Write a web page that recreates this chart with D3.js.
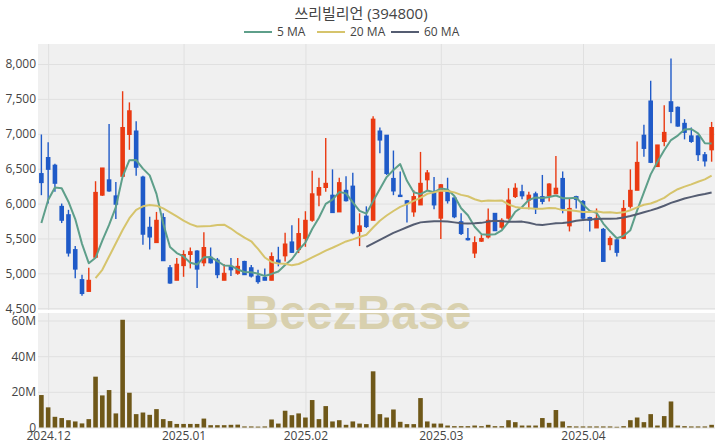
<!DOCTYPE html>
<html><head><meta charset="utf-8">
<script src="https://cdn.jsdelivr.net/npm/d3@7"></script>
<style>body{margin:0;background:#fff}svg{display:block}</style>
</head><body><svg id="c" width="720" height="448"></svg>
<script>
// ---- data ----
const openP  = [6430,6660,6550,5960,5840,5340,4910,4740,5230,6120, 6340,6110,6390,6990,7040,6380,5660,5440,5800,5080,
                4900,5110,5270,5320,5150,5230,5190,4900,5100,5000, 5170,5080,4960,4940,4900,5190,5250,5450,5340,5500,
                5760,6120,6230,6120,5880,6190,6250,5600,5820,5760, 7040,6980,6360,6120,6040,5880,5980,6340,6150,5790,
                6180,6080,5740,5500,5290,5460,5520,5860,5660,5790, 6100,6170,6050,6140,6100,6110,6140,6360,5680,6100,
                6030,5800,5650,5630,5410,5480,5500,5960,6190,6980, 7470,6530,6890,7460,7380,7150,6970,6970,6700,6770];
const highP  = [6990,6880,6570,6000,5910,5390,4980,5080,6320,6510, 7140,6310,7610,7450,7180,6400,5810,5880,5860,5120,
                5220,5330,5370,5330,5590,5370,5220,5130,5220,5220, 5180,5120,5050,5070,5300,5380,5580,5690,5790,5890,
                6470,6370,6940,6490,6370,6390,6440,5860,5960,7250, 7090,6980,6760,6460,6050,6190,6740,6480,6380,6280,
                6370,6100,5860,5650,5530,5550,5930,5860,5790,6220, 6290,6270,6170,6170,6410,6290,6680,6460,6080,6110,
                6050,5810,5930,5650,5530,5500,6050,6490,6890,7130, 7760,6840,7410,8080,7390,7210,7090,6980,6740,7170];
const lowP   = [6120,6000,6170,5720,5240,4930,4680,4740,5220,6110, 6170,5780,6390,6770,6400,5410,5340,5440,5180,4850,
                4900,4950,5070,4790,5100,5140,4930,4900,4960,4980, 4980,4940,4850,4900,4900,5100,5170,5290,5290,5380,
                5740,5960,6170,5870,5880,6030,5560,5390,5650,5760, 6720,6410,6120,6100,5730,5810,5980,6190,5920,5490,
                6000,5790,5550,5470,5220,5450,5500,5610,5640,5770, 6080,6060,5920,5850,5990,6030,6140,5860,5600,5930,
                5760,5600,5650,5170,5330,5240,5490,5930,6190,6670, 6580,6530,6820,7150,7100,6920,6870,6610,6530,6600];
const closeP = [6300,6490,6290,5760,5290,5060,4710,4900,6160,6510, 6180,5990,7090,7330,6520,5560,5520,5760,5180,4860,
                5130,5270,5310,5060,5370,5150,4980,5000,5050,5100, 4980,4960,4880,4900,5240,5150,5420,5300,5570,5760,
                6140,6230,6290,5870,6300,6040,5580,5680,5670,7210, 6910,6430,6180,6100,6000,6100,6290,6440,5980,6270,
                6040,5810,5570,5480,5440,5500,5760,5610,5760,6050, 6220,6110,6120,5930,6030,6280,6220,5930,5930,6060,
                5790,5760,5790,5170,5500,5300,5930,6190,6590,6790, 6590,6840,7020,7320,7110,7020,6890,6700,6610,7090];
// volume in millions of shares
const volumeM = [18.2,11.3,6.0,5.3,4.1,3.4,2.3,4.7,28.5,18.0, 21.0,7.9,60.4,19.5,7.5,8.4,7.1,10.3,4.7,3.6,
                 2.0,2.0,2.0,2.0,5.0,1.3,1.3,1.3,1.5,1.6, 0.6,0.6,0.5,0.6,4.5,2.2,9.4,6.9,7.9,5.6,
                 15.4,4.7,12.0,3.4,4.1,1.5,3.4,2.2,1.9,31.5, 7.5,5.6,10.1,3.2,1.9,1.9,16.5,3.4,2.2,2.2,
                 1.1,0.75,0.75,0.75,1.1,0.75,1.5,0.75,0.75,4.1, 3.0,1.1,1.1,1.1,5.3,2.6,9.8,3.4,0.75,0.6,
                 0.6,0.6,0.6,0.6,0.6,0.4,0.75,4.1,5.6,3.0, 7.5,1.1,6.4,14.6,1.1,0.75,0.6,0.6,0.6,1.5];
const ma5  = [5720,6050,6230,6220,6026,5778,5422,5145,5223,5468, 5693,5949,6387,6622,6624,6500,6404,6139,5709,5376,
              5290,5242,5151,5126,5229,5233,5174,5112,5110,5055, 5019,5016,4993,4962,4991,5026,5118,5201,5334,5439,
              5635,5797,5995,6056,6164,6146,6017,5895,5855,6035, 6209,6379,6480,6566,6326,6163,6135,6186,6162,6215,
              6202,6107,5933,5833,5668,5561,5551,5559,5616,5738, 5882,5950,6053,6086,6081,6094,6116,6077,6077,6084,
              5986,5895,5866,5713,5602,5503,5537,5618,5902,6160, 6418,6599,6764,6910,6974,7060,7069,7005,6865,6861];
const ma20 = [null,null,null,null,null,null,null,null,4930,5050, 5240,5430,5620,5790,5910,5960,5980,5970,5930,5874,
              5815,5754,5705,5670,5674,5679,5692,5697,5642,5571, 5511,5459,5349,5227,5163,5142,5137,5114,5133,5178,
              5228,5276,5325,5366,5412,5457,5487,5521,5552,5657, 5754,5828,5893,5953,5991,6038,6082,6139,6160,6185,
              6180,6160,6124,6104,6061,6034,6043,6040,6044,5987, 5952,5936,5933,5924,5926,5935,5931,5906,5903,5893,
              5880,5878,5889,5873,5876,5866,5874,5904,5945,5982, 6000,6037,6081,6151,6205,6242,6275,6313,6347,6399];
const ma60 = [null,null,null,null,null,null,null,null,null,null, null,null,null,null,null,null,null,null,null,null,
              null,null,null,null,null,null,null,null,null,null, null,null,null,null,null,null,null,null,null,null,
              null,null,null,null,null,null,null,null,5380,5430, 5480,5530,5580,5620,5660,5700,5730,5740,5745,5746,
              5741,5730,5718,5713,5716,5723,5741,5753,5746,5738, 5739,5741,5725,5701,5693,5705,5717,5720,5732,5752,
              5763,5771,5779,5781,5783,5786,5801,5821,5847,5875, 5902,5933,5969,6009,6041,6072,6096,6119,6137,6159];
const monthLabels = ["2024.12","2025.01","2025.02","2025.03","2025.04"];
const monthIndex  = [1,21,39,59,80];
const priceTicks  = [4500,5000,5500,6000,6500,7000,7500,8000];
const volumeTicksM = [0,20,40,60];
const maSeries = [
  {label:"5 MA",  values: ma5,  color:"#5e9f8a"},
  {label:"20 MA", values: ma20, color:"#d6c46c"},
  {label:"60 MA", values: ma60, color:"#555d72"}
];
const titleText = "쓰리빌리언 (394800)";

// ---- layout ----
const FONT = "'Open Sans','Noto Sans CJK KR',sans-serif";
const left = 38, right = 715;
const pTop = 44, pBot = 310, vTop = 313, vBot = 428;
const n = closeP.length;
const svg = d3.select('#c');

const x  = d3.scaleLinear().domain([-0.5, n - 0.5]).range([left, right]);
const yP = d3.scaleLinear().domain([4474, 8287]).range([pBot, pTop]);
const yV = d3.scaleLinear().domain([0, 64.2]).range([427.5, vTop]);

// backgrounds
svg.append('rect').attr('x', left).attr('y', pTop).attr('width', right - left).attr('height', pBot - pTop).attr('fill', '#f0f0f0');
svg.append('rect').attr('x', left).attr('y', vTop).attr('width', right - left).attr('height', vBot - vTop).attr('fill', '#f0f0f0');

function styleAxis(g) {
  g.select('.domain').remove();
  g.selectAll('line').attr('stroke', '#e0e0e0').attr('stroke-width', 1);
  g.selectAll('text').attr('font-family', FONT).attr('font-size', 12).attr('fill', '#444');
}

// price grid + labels
svg.append('g').attr('transform', `translate(${left},0)`)
  .call(d3.axisLeft(yP).tickValues(priceTicks).tickFormat(d3.format(',')).tickSize(-(right - left)).tickPadding(2))
  .call(styleAxis);
// volume grid + labels
svg.append('g').attr('transform', `translate(${left},0)`)
  .call(d3.axisLeft(yV).tickValues(volumeTicksM).tickFormat(d => d === 0 ? '0' : d + 'M').tickSize(-(right - left)).tickPadding(2))
  .call(styleAxis);
// vertical grid (price panel)
svg.append('g').attr('transform', `translate(0,${pBot})`)
  .call(d3.axisBottom(x).tickValues(monthIndex).tickFormat('').tickSize(-(pBot - pTop)))
  .call(styleAxis);
// vertical grid + month labels (volume panel)
svg.append('g').attr('transform', `translate(0,${vBot})`)
  .call(d3.axisBottom(x).tickValues(monthIndex).tickFormat((d, i) => monthLabels[i]).tickSize(-(vBot - vTop)).tickPadding(3))
  .call(styleAxis);

// watermark
svg.append('text').attr('x', 358).attr('y', 329).attr('text-anchor', 'middle')
  .attr('font-family', "'Liberation Sans',Arial,sans-serif").attr('font-weight', 'bold').attr('font-size', 48)
  .attr('fill', '#d8d0ae').text('BeezBase');
// white gap between panels
svg.append('rect').attr('x', left).attr('y', pBot).attr('width', right - left).attr('height', vTop - pBot).attr('fill', '#fff');

const idx = d3.range(n);
const UP = '#ea3a12', DOWN = '#1f5ac8';
const col = i => closeP[i] >= openP[i] ? UP : DOWN;

// candles
const cg = svg.append('g');
cg.selectAll('line.wick').data(idx).join('line').attr('class', 'wick')
  .attr('x1', i => x(i)).attr('x2', i => x(i))
  .attr('y1', i => yP(highP[i])).attr('y2', i => yP(lowP[i]))
  .attr('stroke', col).attr('stroke-width', 1.4);
const bw = 4.6;
cg.selectAll('rect.body').data(idx).join('rect').attr('class', 'body')
  .attr('x', i => x(i) - bw / 2).attr('width', bw)
  .attr('y', i => Math.min(yP(openP[i]), yP(closeP[i])) - 0.5)
  .attr('height', i => Math.max(1.6, Math.abs(yP(openP[i]) - yP(closeP[i])) + 1))
  .attr('fill', col);

// moving averages
maSeries.forEach(s => {
  const line = d3.line().defined(i => s.values[i] != null).x(i => x(i)).y(i => yP(s.values[i])).curve(d3.curveLinear);
  svg.append('path').attr('d', line(idx)).attr('fill', 'none').attr('stroke', s.color).attr('stroke-width', 2).attr('stroke-linejoin', 'round');
});

// volume bars
const vw = 4.6;
svg.append('g').selectAll('rect').data(idx).join('rect')
  .attr('x', i => x(i) - vw / 2).attr('width', vw)
  .attr('y', i => yV(volumeM[i])).attr('height', i => yV(0) - yV(volumeM[i]))
  .attr('fill', '#6f5819');

// title
svg.append('text').attr('x', 361).attr('y', 19).attr('text-anchor', 'middle')
  .attr('font-family', FONT).attr('font-size', 15).attr('fill', '#444').text(titleText);

// legend
const legendX = [244, 317, 391];
const lg = svg.append('g');
maSeries.forEach((s, k) => {
  const g = lg.append('g').attr('transform', `translate(${legendX[k]},32)`);
  g.append('line').attr('x1', 0).attr('x2', 28).attr('y1', 0).attr('y2', 0).attr('stroke', s.color).attr('stroke-width', 2);
  g.append('text').attr('x', 33).attr('y', 4.3).attr('font-family', FONT).attr('font-size', 12).attr('fill', '#444').text(s.label);
});
</script></body></html>
